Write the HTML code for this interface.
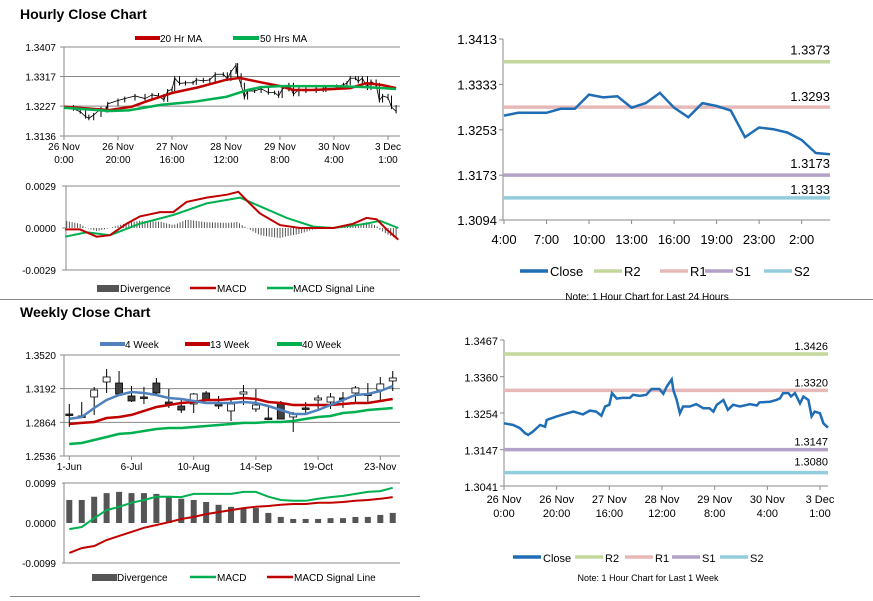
<!DOCTYPE html>
<html><head><meta charset="utf-8">
<style>
html,body{margin:0;padding:0;background:#fff;}
svg{display:block;font-family:"Liberation Sans",Arial,sans-serif;}
</style></head>
<body>
<svg id="root" width="873" height="601" viewBox="0 0 873 601" xmlns="http://www.w3.org/2000/svg">
<text x="20" y="19" font-size="14" font-weight="bold">Hourly Close Chart</text>
<text x="20" y="317" font-size="14" font-weight="bold">Weekly Close Chart</text>
<line x1="0" y1="299.5" x2="873" y2="299.5" stroke="#888"/>
<line x1="10" y1="596.5" x2="420" y2="596.5" stroke="#888"/>
<g id="g"></g>
</svg>
<script>
// ---------- hourly data ----------
const hrH=[0,3.5,6,8,9.2,11,13.7,15.6,16.2,20,22.5,26.3,30,32.6,35,37,38.4,40,41,42.8,45,47.8,49,51.6,54,56,59,60.5,61.8,63.7,64.3,65.6,66.8,68,70.6,73,75.7,78,79.5,80.8,83.3,85,87,89.6,93.4,96,97,101,103.5,104.8,106,108,109,110.5,112.4,113.7,115.6,116.8,118,120,121.3,123];
const hrClose=[1.3224,1.3219,1.3210,1.3195,1.3190,1.3200,1.3219,1.3214,1.3234,1.3244,1.3250,1.3258,1.3250,1.3261,1.3258,1.3246,1.3273,1.3278,1.3312,1.3296,1.3298,1.3298,1.3307,1.3304,1.3307,1.3324,1.3324,1.3310,1.3331,1.3352,1.3321,1.3292,1.3253,1.3273,1.3273,1.3280,1.3268,1.3268,1.3258,1.3278,1.3292,1.3263,1.3278,1.3273,1.3280,1.3276,1.3285,1.3287,1.3292,1.3297,1.3312,1.3312,1.3302,1.3312,1.3282,1.3302,1.3292,1.3244,1.3258,1.3253,1.3224,1.3211];
const ma20H=[0,17,19,25,31,40,50,60,65,72,80,85,92,100,106,112,118,123];
const ma20=[1.3225,1.3215,1.3218,1.3225,1.3243,1.3267,1.3285,1.3307,1.3313,1.3301,1.3288,1.3276,1.3276,1.3279,1.3282,1.3297,1.3291,1.3282];
const ma50H=[0,17,24,36,48,60,68,73,80,100,112,123];
const ma50=[1.3222,1.3212,1.3214,1.3231,1.3240,1.3255,1.3276,1.3285,1.3288,1.3288,1.3285,1.3279];
const hMacdH=[0.4,5.9,12.1,17,23.2,28.1,35.6,40.5,45.4,52.8,60.3,64.6,67.7,72.6,80,87.4,99.8,107.2,112,115.8,119.5,123.8];
const hMacd=[-0.0001,-0.0001,-0.0006,-0.0005,0.0003,0.0008,0.0011,0.0011,0.0018,0.0021,0.0023,0.0025,0.0019,0.0010,0.0002,0.0000,0.0000,0.0003,0.0007,0.0006,-0.0001,-0.0008];
const hSigH=[0.4,8.4,17,28.1,40.5,52.8,65.2,72.6,82.5,92.3,99.8,112,117,123.8];
const hSig=[-0.0006,-0.0003,-0.0005,0.0003,0.0009,0.0017,0.0021,0.0015,0.0007,0.0001,0.0000,0.0003,0.0005,0.0000];
const hourTicks=[["26 Nov","0:00"],["26 Nov","20:00"],["27 Nov","16:00"],["28 Nov","12:00"],["29 Nov","8:00"],["30 Nov","4:00"],["3 Dec","1:00"]];
const hourTickH=[0,20,40,60,80,100,120];
// ---------- weekly data ----------
const wkLabels=["1-Jun","6-Jul","10-Aug","14-Sep","19-Oct","23-Nov"];
const wkLabelIdx=[0,5,10,15,20,25];
const wkOpen=[1.2945,1.2926,1.3111,1.3257,1.3247,1.3121,1.3111,1.3247,1.3062,1.3023,1.3043,1.3150,1.3052,1.2975,1.3140,1.2994,1.2906,1.3052,1.2916,1.3004,1.3082,1.3062,1.3101,1.3150,1.3140,1.3179,1.3267];
const wkClose=[1.2945,1.2916,1.3179,1.3306,1.3140,1.3072,1.3101,1.3150,1.3043,1.2984,1.3140,1.3082,1.3023,1.3043,1.3160,1.3033,1.2906,1.2896,1.2945,1.3004,1.3101,1.3111,1.3101,1.3199,1.3140,1.3238,1.3296];
const wkHigh=[1.3043,1.3062,1.3208,1.3384,1.3364,1.3218,1.3208,1.3296,1.3189,1.3091,1.3150,1.3169,1.3121,1.3082,1.3228,1.3189,1.3023,1.3072,1.2965,1.3062,1.3130,1.3150,1.3160,1.3218,1.3247,1.3306,1.3364];
const wkLow=[1.2819,1.2906,1.2936,1.3150,1.3150,1.3062,1.3043,1.3140,1.3004,1.2955,1.2955,1.3072,1.2994,1.2877,1.3033,1.2965,1.2887,1.2896,1.2770,1.2955,1.2994,1.2994,1.3004,1.3062,1.3043,1.3082,1.3169];
const wk4=[1.2897,1.2916,1.3004,1.3082,1.3130,1.3160,1.3150,1.3130,1.3101,1.3091,1.3072,1.3052,1.3052,1.3052,1.3062,1.3052,1.3023,1.2984,1.2945,1.2945,1.2984,1.3033,1.3082,1.3130,1.3140,1.3169,1.3218];
const wk13=[1.2848,1.2858,1.2867,1.2906,1.2916,1.2936,1.2975,1.3013,1.3033,1.3052,1.3062,1.3082,1.3082,1.3091,1.3101,1.3091,1.3062,1.3052,1.3033,1.3033,1.3033,1.3033,1.3043,1.3052,1.3052,1.3072,1.3091];
const wk40=[1.2653,1.2663,1.2692,1.2721,1.2751,1.2760,1.2780,1.2799,1.2809,1.2809,1.2819,1.2828,1.2838,1.2848,1.2858,1.2858,1.2867,1.2867,1.2877,1.2897,1.2916,1.2926,1.2955,1.2965,1.2984,1.2994,1.3004];
const wkDiv=[0.0057,0.0057,0.0065,0.0074,0.0077,0.0074,0.0074,0.0072,0.0067,0.0060,0.0057,0.0052,0.0045,0.0040,0.0037,0.0037,0.0025,0.0015,0.0010,0.0010,0.0010,0.0012,0.0012,0.0015,0.0015,0.0020,0.0025];
const wkMacd=[-0.0015,-0.0010,0.0012,0.0032,0.0040,0.0050,0.0057,0.0065,0.0065,0.0064,0.0072,0.0072,0.0072,0.0072,0.0077,0.0077,0.0065,0.0057,0.0055,0.0055,0.0060,0.0064,0.0067,0.0072,0.0077,0.0079,0.0087];
const wkSig=[-0.0074,-0.0062,-0.0057,-0.0042,-0.0032,-0.0022,-0.0012,-0.0005,0.0002,0.0010,0.0015,0.0022,0.0027,0.0032,0.0037,0.0040,0.0042,0.0045,0.0047,0.0047,0.0050,0.0050,0.0052,0.0055,0.0057,0.0060,0.0064];
// ---------- 24h data ----------
const dayLabels=["4:00","7:00","10:00","13:00","16:00","19:00","23:00","2:00"];
const dayLabelIdx=[0,3,6,9,12,15,18,21];
const dayClose=[1.3278,1.3283,1.3283,1.3283,1.3290,1.3290,1.3315,1.3310,1.3312,1.3292,1.3300,1.3318,1.3292,1.3275,1.3300,1.3295,1.3287,1.3240,1.3257,1.3254,1.3248,1.3235,1.3212,1.3210];
const dayLevels=[1.3373,1.3293,1.3173,1.3133];
const weekLevels=[1.3426,1.3320,1.3147,1.3080];
const levelNames=["r2","r1","s1","s2"];
const levelColors=["#c3d69b","#e6b9b8","#b3a2c7","#93cddd"];

const NS="http://www.w3.org/2000/svg";
const G=document.getElementById('g');
function el(tag,attrs,parent){const e=document.createElementNS(NS,tag);for(const k in attrs)e.setAttribute(k,attrs[k]);(parent||G).appendChild(e);return e;}
function txt(x,y,s,size,anchor,parent){const t=el('text',{x:x,y:y,'font-size':size,'text-anchor':anchor||'start',fill:'#000'},parent);t.textContent=s;return t;}
function lin(d0,d1,r0,r1){return v=>r0+(v-d0)*(r1-r0)/(d1-d0);}
function interp(xs,ys,x){if(x<=xs[0])return ys[0];for(let i=1;i<xs.length;i++){if(x<=xs[i]){const t=(x-xs[i-1])/(xs[i]-xs[i-1]);return ys[i-1]+t*(ys[i]-ys[i-1]);}}return ys[ys.length-1];}
function path(xs,ys,fx,fy){return xs.map((x,i)=>(i?'L':'M')+fx(x).toFixed(1)+','+fy(ys[i]).toFixed(1)).join('');}

// ===== Hourly price (top-left) =====
(function(){
 const g=el('g',{});
 
 
 const X=lin(0,120,64,388), Y=lin(1.3136,1.3407,136,47);
 const ticks=[1.3407,1.3317,1.3227,1.3136];
 ticks.forEach(v=>{const l=el('line',{x1:60,x2:400,y1:Y(v),y2:Y(v),stroke:'#888','stroke-width':1},g);
  const t=txt(56,Y(v)+4,v.toFixed(4),10,'end',g);});
 el('line',{x1:64,x2:64,y1:47,y2:136,stroke:'#888'},g);
 hourTickH.forEach((h,i)=>{el('line',{x1:X(h),x2:X(h),y1:136,y2:140,stroke:'#888'},g);
  const a=txt(X(h),150,hourTicks[i][0],10,'middle',g);
  const b=txt(X(h),163,hourTicks[i][1],10,'middle',g);});
 for(let i=1;i<hrH.length;i++){const lo=Math.min(hrClose[i-1],hrClose[i]),hi=Math.max(hrClose[i-1],hrClose[i]);
  const b=el('line',{x1:X(hrH[i]),x2:X(hrH[i]),y1:Y(hi)-2,y2:Y(lo)+2,stroke:'#000','stroke-width':1},g);
  
  const c=el('line',{x1:X(hrH[i-1]),x2:X(hrH[i]),y1:Y(hrClose[i-1]),y2:Y(hrClose[i]),stroke:'#000','stroke-width':0.8},g);
  }
 const r=el('path',{d:path(ma20H,ma20,X,Y),stroke:'#c00000','stroke-width':2.5,fill:'none'},g);
 const gr=el('path',{d:path(ma50H,ma50,X,Y),stroke:'#00b050','stroke-width':2.5,fill:'none'},g);
 const l1=el('g',{},g);
 el('line',{x1:135,x2:160,y1:38,y2:38,stroke:'#c00000','stroke-width':4},l1);txt(160,42,'20 Hr MA',10,'start',l1);
 const l2=el('g',{},g);
 el('line',{x1:233,x2:259,y1:38,y2:38,stroke:'#00b050','stroke-width':4},l2);txt(260,42,'50 Hrs MA',10,'start',l2);
})();

// ===== Hourly MACD =====
(function(){
 const g=el('g',{});
 
 
 const X=lin(0,120,64,388), Y=lin(-0.0029,0.0029,270,186);
 el('line',{x1:62,x2:400,y1:186,y2:186,stroke:'#888'},g);
 el('line',{x1:62,x2:400,y1:270,y2:270,stroke:'#888'},g);
 el('line',{x1:66,x2:66,y1:186,y2:270,stroke:'#888'},g);
 [0.0029,0,-0.0029].forEach(v=>{el('line',{x1:62,x2:66,y1:Y(v),y2:Y(v),stroke:'#888'},g);const t=txt(56,Y(v)+4,v.toFixed(4),10,'end',g);});
 for(let h=1;h<124;h+=1){const d=interp(hMacdH,hMacd,h)-interp(hSigH,hSig,h);
  const b=el('line',{x1:X(h),x2:X(h),y1:Y(0),y2:Y(d),stroke:'#555','stroke-width':1},g);
  }
 const s=el('path',{d:path(hSigH,hSig,X,Y),stroke:'#00b050','stroke-width':2,fill:'none'},g);
 const m=el('path',{d:path(hMacdH,hMacd,X,Y),stroke:'#c00000','stroke-width':2,fill:'none'},g);
 const a=el('g',{},g);
 el('rect',{x:97,y:285,width:22,height:7,fill:'#555'},a);txt(120,292,'Divergence',10,'start',a);
 const b2=el('g',{},g);
 el('line',{x1:190,x2:216,y1:288,y2:288,stroke:'#c00000','stroke-width':2.5},b2);txt(217,292,'MACD',10,'start',b2);
 const c=el('g',{},g);
 el('line',{x1:267,x2:293,y1:288,y2:288,stroke:'#00b050','stroke-width':2.5},c);txt(293,292,'MACD Signal Line',10,'start',c);
})();

// ===== Weekly price =====
(function(){
 const g=el('g',{});
 
 
 const X=lin(0,1,69.3,81.74), Y=lin(1.2536,1.3520,456,355);
 [1.3520,1.3192,1.2864,1.2536].forEach(v=>{el('line',{x1:60,x2:400,y1:Y(v),y2:Y(v),stroke:'#888'},g);const t=txt(56,Y(v)+4,v.toFixed(4),10,'end',g);});
 el('line',{x1:64,x2:64,y1:355,y2:456,stroke:'#888'},g);
 wkLabelIdx.forEach((i,k)=>{el('line',{x1:X(i),x2:X(i),y1:456,y2:460,stroke:'#888'},g);const t=txt(X(i),470,wkLabels[k],10,'middle',g);});
 wkOpen.forEach((o,i)=>{const c=wkClose[i];const cg=el('g',{},g);
  el('line',{x1:X(i),x2:X(i),y1:Y(wkHigh[i]),y2:Y(wkLow[i]),stroke:'#000'},cg);
  const top=Y(Math.max(o,c)),h=Math.max(1.5,Math.abs(Y(o)-Y(c)));
  el('rect',{x:X(i)-3.5,y:top,width:7,height:h,fill:c>o?'#fff':'#404040',stroke:'#000','stroke-width':0.8},cg);});
 [[wk40,'#00b050','ma40-line'],[wk13,'#c00000','ma13-line'],[wk4,'#4f81bd','ma4-line']].forEach(s=>{const p=el('path',{d:path(wk4.map((_,i)=>i),s[0],X,Y),stroke:s[1],'stroke-width':2.5,fill:'none'},g);});
 [[100,125,'#4f81bd','4 Week'],[185,210,'#c00000','13 Week'],[277,302,'#00b050','40 Week']].forEach(e=>{const a=el('g',{},g);
  el('line',{x1:e[0],x2:e[1],y1:344,y2:344,stroke:e[2],'stroke-width':4},a);txt(e[1],348,e[3],10,'start',a);});
})();

// ===== Weekly MACD =====
(function(){
 const g=el('g',{});
 
 
 const X=lin(0,1,69.3,81.74), Y=lin(-0.0099,0.0099,563,483);
 el('line',{x1:62,x2:400,y1:483,y2:483,stroke:'#888'},g);
 el('line',{x1:62,x2:400,y1:563,y2:563,stroke:'#888'},g);
 el('line',{x1:64,x2:64,y1:483,y2:563,stroke:'#888'},g);
 [0.0099,0,-0.0099].forEach(v=>{const t=txt(56,Y(v)+4,v.toFixed(4),10,'end',g);});
 wkDiv.forEach((d,i)=>{const b=el('rect',{x:X(i)-3,y:Math.min(Y(d),Y(0)),width:6,height:Math.abs(Y(d)-Y(0)),fill:'#555'},g);});
 const idx=wkDiv.map((_,i)=>i);
 const m=el('path',{d:path(idx,wkMacd,X,Y),stroke:'#00b050','stroke-width':2,fill:'none'},g);
 const s=el('path',{d:path(idx,wkSig,X,Y),stroke:'#c00000','stroke-width':2,fill:'none'},g);
 const a=el('g',{},g);
 el('rect',{x:92,y:574,width:25,height:7,fill:'#555'},a);txt(117,581,'Divergence',10,'start',a);
 const b2=el('g',{},g);
 el('line',{x1:190,x2:216,y1:577,y2:577,stroke:'#00b050','stroke-width':2.5},b2);txt(217,581,'MACD',10,'start',b2);
 const c=el('g',{},g);
 el('line',{x1:267,x2:293,y1:577,y2:577,stroke:'#c00000','stroke-width':2.5},c);txt(294,581,'MACD Signal Line',10,'start',c);
})();

// ===== Right charts =====
function levelChart(cfg){
 const g=el('g',{});
 
 
 const Y=lin(cfg.ticks[cfg.ticks.length-1],cfg.ticks[0],cfg.y1,cfg.y0);
 el('line',{x1:cfg.x0,x2:cfg.x0,y1:cfg.y0,y2:cfg.y1,stroke:'#888'},g);
 el('line',{x1:cfg.x0,x2:cfg.x1,y1:cfg.y1,y2:cfg.y1,stroke:'#888'},g);
 cfg.ticks.forEach(v=>{el('line',{x1:cfg.x0-4,x2:cfg.x0,y1:Y(v),y2:Y(v),stroke:'#888'},g);const t=txt(cfg.x0-6,Y(v)+5,v.toFixed(4),cfg.fs,'end',g);});
 cfg.xt.forEach((p,k)=>{const x=cfg.X(p);el('line',{x1:x,x2:x,y1:cfg.y1,y2:cfg.y1+4,stroke:'#888'},g);
  cfg.xl[k].forEach((s,j)=>{const t=txt(x,cfg.y1+cfg.xly+j*14,s,cfg.fs,'middle',g);});});
 cfg.levels.forEach((v,i)=>{const l=el('line',{x1:cfg.x0,x2:cfg.x1,y1:Y(v),y2:Y(v),stroke:levelColors[i],'stroke-width':3.5},g);
  const t=txt(cfg.x1,Y(v)-cfg.lo[i],v.toFixed(4),cfg.fs,'end',g);});
 const p=el('path',{d:path(cfg.xs,cfg.vals,cfg.X,Y),stroke:'#1f6db4','stroke-width':2.5,fill:'none'},g);
 const names=['Close','R2','R1','S1','S2'],cols=['#1f6db4'].concat(levelColors);
 cfg.leg.forEach((x,i)=>{const a=el('g',{},g);
  el('line',{x1:x,x2:x+28,y1:cfg.legY,y2:cfg.legY,stroke:cols[i],'stroke-width':3.5},a);txt(x+30,cfg.legY+5,names[i],cfg.legFs,'start',a);});
 const n=txt(cfg.noteX,cfg.noteY,cfg.note,cfg.noteFs,'middle',g);
}
levelChart({name:'day-level-chart',x0:503,x1:830,y0:39,y1:220,ticks:[1.3413,1.3333,1.3253,1.3173,1.3094],fs:13,
 X:lin(0,23,504,830),xt:dayLabelIdx,xl:dayLabels.map(s=>[s]),xly:24,levels:dayLevels,lo:[7,6,7,4],
 xs:dayClose.map((_,i)=>i),vals:dayClose,leg:[520,594,660,705,764],legY:271,legFs:13,note:'Note: 1 Hour Chart for Last 24 Hours',noteX:647,noteY:300,noteFs:10});
levelChart({name:'week-level-chart',x0:504,x1:828,y0:340,y1:486,ticks:[1.3467,1.3360,1.3254,1.3147,1.3041],fs:11,
 X:lin(0,120,504,820),xt:hourTickH,xl:hourTicks,xly:17,levels:weekLevels,lo:[4,4,4,7],
 xs:hrH,vals:hrClose,leg:[513,575,625,672,720],legY:557,legFs:11,note:'Note: 1 Hour Chart for  Last 1 Week',noteX:648,noteY:581,noteFs:9});
</script>
</body></html>
